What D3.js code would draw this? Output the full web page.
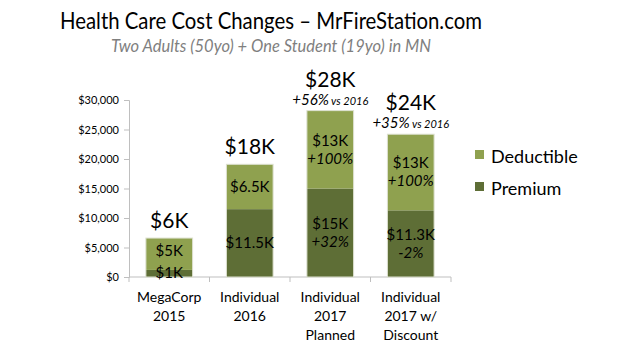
<!DOCTYPE html>
<html><head><meta charset="utf-8">
<script src="https://cdn.jsdelivr.net/npm/d3@7"></script>
<style>body{margin:0;background:#fff}svg{display:block}</style>
</head><body>
<svg id="c" width="633" height="355"></svg>
<script>
const categories = [["MegaCorp","2015"],["Individual","2016"],["Individual","2017","Planned"],["Individual","2017 w/","Discount"]];
const premium = [1200, 11500, 15000, 11300];
const deductible = [5400, 7600, 13200, 12900];
const totalLabels = ["$6K","$18K","$28K","$24K"];
const changeLabels = [null, null, ["+56%"," vs 2016"], ["+35%"," vs 2016"]];
const premiumLabels = [["$1K"],["$11.5K"],["$15K","+32%"],["$11.3K","-2%"]];
const deductibleLabels = [["$5K"],["$6.5K"],["$13K","+100%"],["$13K","+100%"]];
const yTicks = [0,5000,10000,15000,20000,25000,30000];
const seriesNames = ["Deductible","Premium"];
const colors = {Deductible:"#8fa14f", Premium:"#5e6e36"};
const title = "Health Care Cost Changes – MrFireStation.com";
const subtitle = "Two Adults (50yo) + One Student (19yo) in MN";

const F = "Lato, 'Open Sans', sans-serif";
const svg = d3.select("#c");
const x = d3.scaleBand().domain(d3.range(4)).range([129,451]).paddingInner(0.42).paddingOuter(0.21);
const y = d3.scaleLinear().domain([0,30000]).range([277,100]);

// title
function fit(sel, w){ const l = sel.node().getComputedTextLength(); sel.attr("textLength", w).attr("lengthAdjust","spacingAndGlyphs"); }
const t = svg.append("text").attr("x",271).attr("y",29).attr("text-anchor","middle")
  .attr("font-family",F).attr("font-size",23).attr("fill","#000").text(title);
fit(t,422);
const st = svg.append("text").attr("x",271).attr("y",52).attr("text-anchor","middle")
  .attr("font-family",F).attr("font-style","italic").attr("font-size",17).attr("fill","#7f7f7f").text(subtitle);
fit(st,320);

// y axis
const ya = svg.append("g").attr("transform","translate(129,0)")
  .call(d3.axisLeft(y).tickValues(yTicks).tickSize(5).tickPadding(5).tickFormat(d=>"$"+d3.format(",")(d)));
ya.select(".domain").attr("stroke","#bfbfbf");
ya.selectAll(".tick line").attr("stroke","#bfbfbf");
ya.selectAll("text").attr("font-family",F).attr("font-size",11).attr("fill","#000");

// x axis
const xa = svg.append("g").attr("transform","translate(0,277)");
xa.append("line").attr("x1",129).attr("x2",451).attr("stroke","#bfbfbf");
const bounds = [129, ...d3.range(4).map(i=>x(i)+x.bandwidth()+ (x.step()-x.bandwidth())/2)];
bounds.forEach(b=>xa.append("line").attr("x1",b).attr("x2",b).attr("y1",0).attr("y2",5).attr("stroke","#bfbfbf"));
categories.forEach((c,i)=>{
  const tx = xa.append("text").attr("text-anchor","middle").attr("font-family",F).attr("font-size",14).attr("fill","#000");
  c.forEach((line,j)=>tx.append("tspan").attr("x",x(i)+x.bandwidth()/2).attr("y",25+j*19).text(line));
});

// bars
const g = svg.append("g");
d3.range(4).forEach(i=>{
  const cx = x(i)+x.bandwidth()/2;
  g.append("rect").attr("x",x(i)).attr("width",x.bandwidth()).attr("y",y(premium[i])).attr("height",y(0)-y(premium[i]))
    .attr("fill",colors.Premium);
  g.append("rect").attr("x",x(i)).attr("width",x.bandwidth()).attr("y",y(premium[i]+deductible[i])).attr("height",y(premium[i])-y(premium[i]+deductible[i]))
    .attr("fill",colors.Deductible);
  g.append("rect").attr("x",x(i)).attr("width",x.bandwidth()).attr("y",y(premium[i]+deductible[i])).attr("height",y(0)-y(premium[i]+deductible[i]))
    .attr("fill","none").attr("stroke","#dde1d0").attr("stroke-width",1);

  // inner labels
  function inner(lbls, v0, v1){
    const mid = (y(v0)+y(v1))/2;
    const n = lbls.length, lh = 18;
    lbls.forEach((s,j)=>{
      g.append("text").attr("x",cx).attr("y",mid + (j-(n-1)/2)*lh + 5).attr("text-anchor","middle")
        .attr("font-family",F).attr("font-size",15).attr("font-style", j>0?"italic":"normal").attr("fill","#000").text(s);
    });
  }
  if(i===0){
    g.append("text").attr("x",cx).attr("y",y(premium[i])+8).attr("text-anchor","middle").attr("font-family",F).attr("font-size",15).text(premiumLabels[i][0]);
    g.append("text").attr("x",cx).attr("y",y(premium[i]+deductible[i]/2)+2).attr("text-anchor","middle").attr("font-family",F).attr("font-size",15).text(deductibleLabels[i][0]);
  } else {
    inner(premiumLabels[i],0,premium[i]);
    inner(deductibleLabels[i],premium[i],premium[i]+deductible[i]);
  }
  const top = y(premium[i]+deductible[i]);
  if(changeLabels[i]){
    const ct = g.append("text").attr("x",cx).attr("y",top-6).attr("text-anchor","middle").attr("font-family",F).attr("font-style","italic").attr("fill","#000");
    ct.append("tspan").attr("font-size",15).text(changeLabels[i][0]);
    ct.append("tspan").attr("font-size",11).text(changeLabels[i][1]);
    g.append("text").attr("x",cx).attr("y",top-24).attr("text-anchor","middle").attr("font-family",F).attr("font-size",21).text(totalLabels[i]);
  } else {
    g.append("text").attr("x",cx).attr("y",top-10).attr("text-anchor","middle").attr("font-family",F).attr("font-size",21).text(totalLabels[i]);
  }
});

// legend
const lg = svg.append("g");
seriesNames.forEach((s,j)=>{
  lg.append("rect").attr("x",475).attr("y",150+j*32).attr("width",9).attr("height",9).attr("fill",colors[s]);
  lg.append("text").attr("x",491).attr("y",163+j*32).attr("font-family",F).attr("font-size",18).attr("fill","#000").text(s);
});
</script>
</body></html>
